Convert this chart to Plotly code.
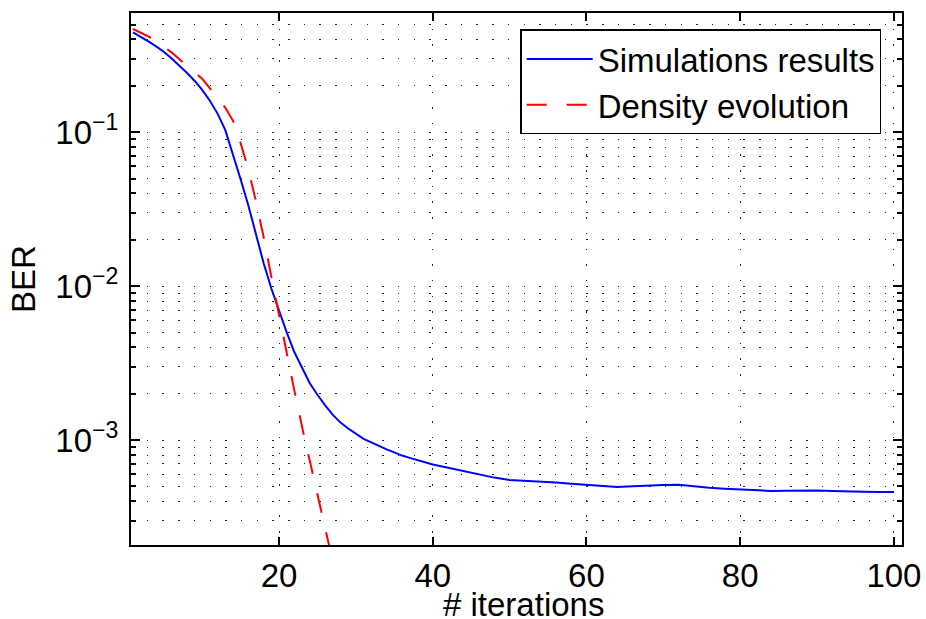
import plotly.graph_objects as go

# ---- data ----
sim_iter = list(range(1, 41)) + list(range(42, 101, 2))
sim_ber = [0.445, 0.417, 0.389, 0.361, 0.333, 0.302, 0.272, 0.243, 0.216, 0.188,
           0.160, 0.132, 0.1035, 0.0724, 0.0495, 0.0335, 0.0219, 0.0141, 0.00966, 0.00692,
           0.00501, 0.00372, 0.00292, 0.00234, 0.00197, 0.00168, 0.00146, 0.00130, 0.00119, 0.00110,
           0.00102, 0.000966, 0.000912, 0.000871, 0.000832, 0.000794, 0.000767, 0.000741, 0.000716, 0.000695,
           0.000661, 0.000628, 0.000600, 0.000571, 0.000552, 0.000546, 0.000540, 0.000530, 0.000520, 0.000513,
           0.000504, 0.000497, 0.000501, 0.000509, 0.000512, 0.000514, 0.000501, 0.000490, 0.000483, 0.000478,
           0.000472, 0.000468, 0.000469, 0.000471, 0.000471, 0.000467, 0.000463, 0.000463, 0.000461, 0.000460]

de_iter = list(range(1, 28))
de_ber = [0.468, 0.444, 0.419, 0.391, 0.361, 0.330, 0.2985, 0.269, 0.2443, 0.2228,
          0.194, 0.1667, 0.1445, 0.1189, 0.0851, 0.0574, 0.0355, 0.0208, 0.01148, 0.00646,
          0.00356, 0.00209, 0.001216, 0.000733, 0.000443, 0.000272, 0.000162]

series_names = ["Simulations results", "Density evolution"]
x_title = "# iterations"
y_title = "BER"

x_ticks = [20, 40, 60, 80, 100]
y_major = [1e-3, 1e-2, 1e-1]
y_major_text = ["10<sup>−3</sup>", "10<sup>−2</sup>", "10<sup>−1</sup>"]
y_minor = [m * 10.0 ** e for e in (-4, -3, -2, -1) for m in range(2, 10)
           if 2e-4 <= m * 10.0 ** e <= 0.6]

FONT = "Liberation Sans, Arial, Helvetica, sans-serif"
GRID_DASH = "1.5px,14.2px"

fig = go.Figure()
fig.add_trace(go.Scatter(x=sim_iter, y=sim_ber, mode="lines", name=series_names[0],
                         line=dict(color="#0000ff", width=2)))
fig.add_trace(go.Scatter(x=de_iter, y=de_ber, mode="lines", name=series_names[1],
                         line=dict(color="#ff0000", width=2, dash="20px,20px")))

fig.update_layout(
    width=926, height=619,
    margin=dict(l=131, r=24, t=13, b=74, autoexpand=False),
    paper_bgcolor="white", plot_bgcolor="white",
    font=dict(family=FONT, size=33, color="black"),
    showlegend=True,
    legend=dict(x=0.973, y=0.969, xanchor="right", yanchor="top",
                bgcolor="white", bordercolor="black", borderwidth=1.5,
                font=dict(size=33), itemwidth=66, tracegroupgap=0),
)

fig.add_annotation(text=x_title, xref="paper", yref="paper", x=0.509, y=-0.074,
                   xanchor="center", yanchor="top", showarrow=False,
                   font=dict(size=33, family=FONT, color="black"))

fig.update_xaxes(
    range=[0.74, 101.05], tickmode="array", tickvals=x_ticks,
    showgrid=True, gridcolor="#222", gridwidth=1, griddash=GRID_DASH,
    ticks="inside", ticklen=8, tickwidth=1.5, tickcolor="black",
    showline=True, linecolor="black", linewidth=2, mirror="ticks",
    zeroline=False, tickfont=dict(size=33), ticklabelstandoff=0, automargin=False,
)

fig.update_yaxes(
    type="log", range=[-3.681, -0.226], tickmode="array",
    tickvals=y_major, ticktext=y_major_text,
    showgrid=True, gridcolor="#222", gridwidth=1, griddash=GRID_DASH,
    ticks="inside", ticklen=9, tickwidth=1.5, tickcolor="black",
    minor=dict(tickmode="array", tickvals=y_minor, ticks="inside", ticklen=5,
               tickwidth=1.5, tickcolor="black", showgrid=True,
               gridcolor="#222", gridwidth=1, griddash=GRID_DASH),
    showline=True, linecolor="black", linewidth=2, mirror="ticks",
    zeroline=False, tickfont=dict(size=33), ticklabelstandoff=4, automargin=False,
    title=dict(text=y_title, standoff=10, font=dict(size=33)),
)

fig.write_html("out.html")
